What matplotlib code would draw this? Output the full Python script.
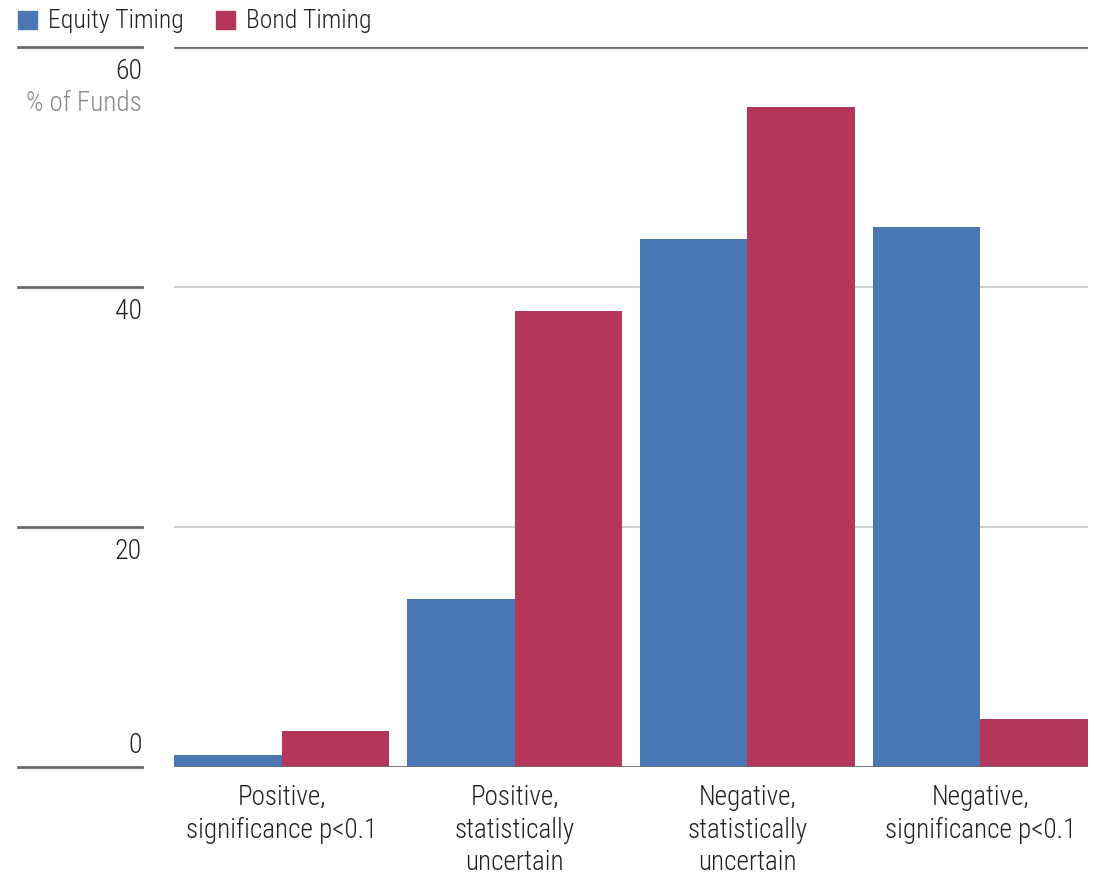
import numpy as np
import matplotlib.pyplot as plt
import matplotlib.transforms as mtransforms
from matplotlib import font_manager
from matplotlib.patches import Rectangle

# narrow sans for all text; fall back to condensed DejaVu
names = {f.name for f in font_manager.fontManager.ttflist}
condensed = [f for f in font_manager.fontManager.ttflist
             if f.name == 'DejaVu Sans' and f.stretch == 'condensed']
if 'Roboto Condensed' in names:
    plt.rcParams['font.family'] = ['Roboto Condensed', 'DejaVu Sans']
    plt.rcParams['font.weight'] = 'light'
else:
    plt.rcParams['font.family'] = ['DejaVu Sans']
    if condensed:
        plt.rcParams['font.stretch'] = 'condensed'

categories = ["Positive,\nsignificance p<0.1",
              "Positive,\nstatistically\nuncertain",
              "Negative,\nstatistically\nuncertain",
              "Negative,\nsignificance p<0.1"]
equity_timing = [1.0, 14.0, 44.0, 45.0]
bond_timing = [3.0, 38.0, 55.0, 4.0]
yticks = [0, 20, 40, 60]

blue = "#4a77b4"
red = "#b5365b"
dark = "#6b6b6b"
light = "#d0d0d0"
text_col = "#222222"

fig = plt.figure(figsize=(10.94, 8.77), dpi=100)
ax = fig.add_axes([174 / 1094, 110 / 877, 914 / 1094, 720 / 877])

x = np.arange(len(categories))
bw = 0.4615
ax.bar(x - bw / 2, equity_timing, bw, color=blue, zorder=3)
ax.bar(x + bw / 2, bond_timing, bw, color=red, zorder=3)

ax.set_xlim(-bw, len(categories) - 1 + bw)
ax.set_ylim(0, 60)

for s in ax.spines.values():
    s.set_visible(False)
ax.set_yticks([])
ax.set_xticks(x)
ax.set_xticklabels(categories, fontsize=19.5, color=text_col, linespacing=1.28)
ax.tick_params(axis='x', length=0, pad=12)

# gridlines inside the plot, darker at bottom and top
for t in yticks:
    c = dark if t in (0, 60) else light
    lw = 2.0 if t in (0, 60) else 1.5
    ax.axhline(t, color=c, lw=lw, zorder=4 if t == 0 else 1)

# left-side tick lines and labels (0 sits above its line, the rest below)
tr = mtransforms.blended_transform_factory(fig.transFigure, ax.transData)
for t in yticks:
    ax.plot([18 / 1094, 142 / 1094], [t, t], transform=tr, color=dark,
            lw=2.0, clip_on=False)
    if t == 0:
        ax.text(142 / 1094, t + 0.7, str(t), transform=tr, ha='right',
                va='bottom', fontsize=20, color=text_col)
    else:
        ax.text(142 / 1094, t - 0.9, str(t), transform=tr, ha='right',
                va='top', fontsize=20, color=text_col)
ax.text(142 / 1094, 54.2, "% of Funds", transform=tr, ha='right',
        va='bottom', fontsize=19.5, color="#888888")

# legend
for lab, col, x0 in [("Equity Timing", blue, 18), ("Bond Timing", red, 216)]:
    fig.patches.append(Rectangle((x0 / 1094, 1 - 29 / 877), 19 / 1094, 18 / 877,
                                 transform=fig.transFigure, color=col))
    fig.text((x0 + 30) / 1094, 1 - 21 / 877, lab, fontsize=18.5,
             color=text_col, va='center', ha='left')

fig.savefig("out.png", dpi=100)
